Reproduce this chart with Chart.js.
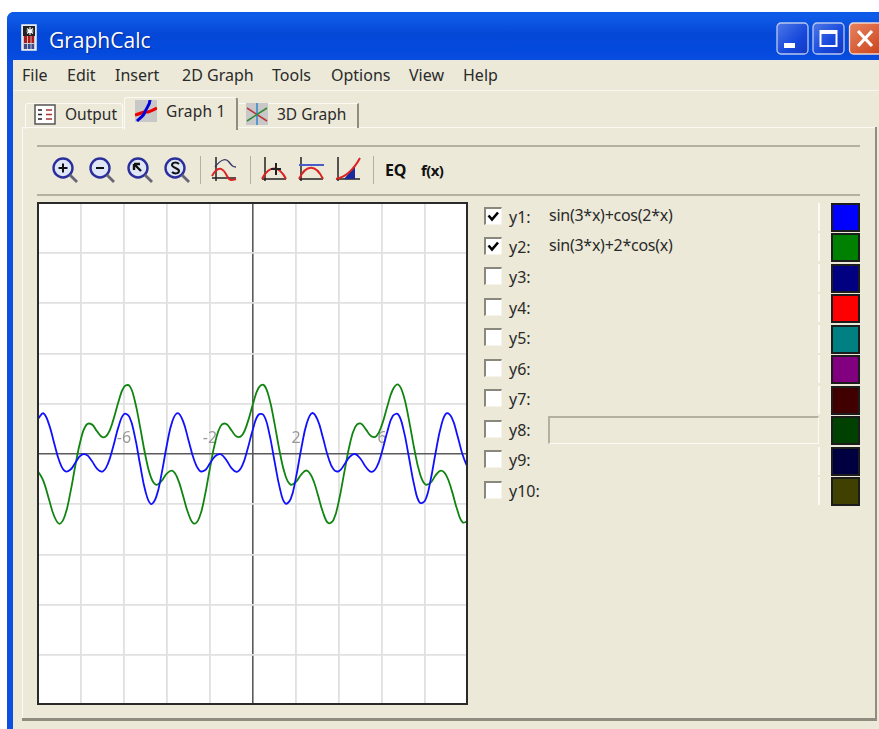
<!DOCTYPE html>
<html><head><meta charset="utf-8">
<script src="https://cdn.jsdelivr.net/npm/chart.js@4"></script>
<style>
html,body{margin:0;padding:0;background:#fff;width:879px;height:729px;overflow:hidden}
#win{position:absolute;left:0;top:0;width:879px;height:729px;overflow:hidden;font-family:"Noto Sans","Open Sans",sans-serif;color:#2a2a2a;filter:blur(.45px)}
.a{position:absolute;white-space:nowrap}
.t{position:absolute;white-space:nowrap;line-height:20px;transform:translateY(-10px)}
</style></head><body>
<div id="win">
 <div class="a" style="left:7px;top:12px;width:872px;height:717px;background:#0a4fe0;border-top-left-radius:7px"></div>
 <div class="a" style="left:7px;top:12px;width:872px;height:48px;border-top-left-radius:7px;background:linear-gradient(#0a58e6 0,#0f5ce8 8%,#0548d8 45%,#0249dc 80%,#0a4ce0 100%)"></div>
 <div class="a" style="left:13px;top:60px;width:866px;height:669px;background:#ece9d8"></div>
 <div class="t" style="left:49px;top:40px;color:#fff;font:500 21px/20px 'Open Sans',sans-serif;text-shadow:1px 1px 1px #0a2a90">GraphCalc</div>
 <svg class="a" style="left:21px;top:24px" width="16" height="27" viewBox="0 0 16 27"><rect width="14" height="25" x="1" y="1" fill="#c9c9d4" stroke="#f2f2f2" stroke-width="1.500"/><rect x="2" y="2" width="12" height="10" fill="#222"/><path d="M9 3v8M5.500 7h7M6 4.500l6 5M12 4.500l-6 5" stroke="#fff" stroke-width="1.100"/><rect x="3" y="12" width="10" height="7" fill="#a81a1a"/><rect x="3" y="20" width="10" height="5" fill="#3a4a8c"/><path d="M6.500 12v13M10 12v13" stroke="#ddd" stroke-width=".8"/></svg>
 <svg class="a" style="left:776px;top:22px" width="103" height="33" viewBox="0 0 103 33">
  <defs><linearGradient id="b" x1="0" y1="0" x2="1" y2="1"><stop offset="0" stop-color="#4f78e6"/><stop offset=".6" stop-color="#1648dc"/><stop offset="1" stop-color="#1438c4"/></linearGradient>
  <linearGradient id="r" x1="0" y1="0" x2="1" y2="1"><stop offset="0" stop-color="#e8835f"/><stop offset="1" stop-color="#c83c14"/></linearGradient></defs>
  <rect x="1" y="1" width="31" height="31" rx="4" fill="url(#b)" stroke="#b8c8f0" stroke-width="1.300"/>
  <rect x="8" y="21" width="11" height="5" fill="#fff"/>
  <rect x="37" y="1" width="31" height="31" rx="4" fill="url(#b)" stroke="#b8c8f0" stroke-width="1.300"/>
  <rect x="44.500" y="9" width="16" height="15" fill="none" stroke="#fff" stroke-width="2"/><rect x="44" y="8" width="17" height="4" fill="#fff"/>
  <rect x="73.500" y="1" width="40" height="31" rx="4" fill="url(#r)" stroke="#f0d8d0" stroke-width="1.300"/>
  <path d="M82 9l14 15M96 9l-14 15" stroke="#fff" stroke-width="3.200"/>
 </svg>
 <div id="menu"></div>
 <div class="a" style="left:13px;top:90px;width:866px;height:1px;background:#f8f6ee"></div>

 <div class="a" style="left:22px;top:127px;width:853px;height:592px;border-top:1.500px solid #fbfaf4;border-left:1.500px solid #fbfaf4;box-sizing:border-box"></div>
 <div class="a" style="left:22px;top:718px;width:855px;height:3px;background:#8f8d80"></div>
 <div class="a" style="left:875px;top:127px;width:2px;height:594px;background:#8f8d80"></div>

 <div class="a" style="left:25px;top:103px;width:98px;height:26px;border:1.500px solid #fbfaf4;border-bottom:none;border-radius:3px 3px 0 0;box-sizing:border-box"></div>
 <div class="a" style="left:124px;top:97px;width:114px;height:33px;background:#ece9d8;border-top:1.500px solid #fbfaf4;border-left:1.500px solid #fbfaf4;border-right:2px solid #8f8d80;border-radius:3px 3px 0 0;box-sizing:border-box"></div>
 <div class="a" style="left:239px;top:103px;width:120px;height:25px;border-top:1.500px solid #fbfaf4;border-right:2px solid #8f8d80;box-sizing:border-box"></div>
 <div class="t" style="left:65px;top:114px;font-size:15.500px">Output</div>
 <div class="t" style="left:166px;top:111px;font-size:15.500px;letter-spacing:.2px">Graph 1</div>
 <div class="t" style="left:277px;top:114px;font-size:15.500px">3D Graph</div>
 <svg class="a" style="left:34px;top:104px" width="22" height="21" viewBox="0 0 22 21"><rect x="1" y="1" width="20" height="19" fill="#fff" stroke="#555" stroke-width="1.500"/><path d="M4 6h4M4 10.500h4M4 15h4" stroke="#222" stroke-width="1.500"/><path d="M12 6h6M12 10.500h6M12 15h6" stroke="#a33" stroke-width="1.500"/></svg>
 <svg class="a" style="left:135px;top:100px" width="22" height="22" viewBox="0 0 22 22"><rect width="22" height="22" fill="#c8c8c8"/><path d="M0 15c4-1 6-2 9-3h4c3-1 5-2 9-4" fill="none" stroke="#e00" stroke-width="3"/><path d="M2 21c3-3 6-5 7-7s1-3 3-6 3-5 3-8" fill="none" stroke="#00d" stroke-width="3"/></svg>
 <svg class="a" style="left:246px;top:103px" width="22" height="22" viewBox="0 0 22 22"><rect width="22" height="22" fill="#c8c8c8"/><path d="M1 5l20 13" stroke="#b33" stroke-width="1.500"/><path d="M11 0v22" stroke="#38c" stroke-width="1.500"/><path d="M1 18L21 5" stroke="#383" stroke-width="1.500"/></svg>

 <div class="a" style="left:37px;top:145px;width:823px;height:2px;background:#b4b1a1"></div>
 <div class="a" style="left:37px;top:194px;width:823px;height:2px;background:#b4b1a1"></div>
 <div class="a" style="left:200px;top:156px;width:1px;height:28px;background:#b4b1a1"></div>
 <div class="a" style="left:250px;top:156px;width:1px;height:28px;background:#b4b1a1"></div>
 <div class="a" style="left:373px;top:156px;width:1px;height:28px;background:#b4b1a1"></div>
 <svg class="a" style="left:50px;top:155px" width="400" height="30" viewBox="0 0 400 30" fill="none">
  <g><circle cx="13" cy="13" r="9.500" fill="#dfe6f5" stroke="#2a2f9c" stroke-width="2.400"/><path d="M20 20l7 7" stroke="#667" stroke-width="2.800"/></g>
  <path d="M8.500 13h9M13 8.500v9" stroke="#111" stroke-width="2"/>
  <g transform="translate(37 0)"><circle cx="13" cy="13" r="9.500" fill="#dfe6f5" stroke="#2a2f9c" stroke-width="2.400"/><path d="M20 20l7 7" stroke="#667" stroke-width="2.800"/><path d="M9 13h8" stroke="#111" stroke-width="2"/></g>
  <g transform="translate(75 0)"><circle cx="13" cy="13" r="9.500" fill="#dfe6f5" stroke="#2a2f9c" stroke-width="2.400"/><path d="M20 20l7 7" stroke="#667" stroke-width="2.800"/><path d="M9 9l7 7M9 9h6M9 9v6" stroke="#111" stroke-width="2.400"/></g>
  <g transform="translate(112 0)"><circle cx="13" cy="13" r="9.500" fill="#dfe6f5" stroke="#2a2f9c" stroke-width="2.400"/><path d="M20 20l7 7" stroke="#667" stroke-width="2.800"/><path d="M17 9c-2-2-7-2-7 1s7 3 7 6-5 3-7 1" stroke="#111" stroke-width="2"/></g>
  <g transform="translate(162 2)"><path d="M4 0v24M0 21h24" stroke="#222" stroke-width="1.500"/><path d="M0 19c7-13 12-6 15 0s6 4 9 3" stroke="#d22" stroke-width="2"/><path d="M3 10c6-8 11-9 14-5s4 5 7 5" stroke="#336" stroke-width="1.300"/></g>
  <g transform="translate(212 2)"><path d="M3 0v24M0 22h24" stroke="#222" stroke-width="1.500"/><path d="M0 22C7 8 17 8 24 22" stroke="#d22" stroke-width="2"/><path d="M14 6v12M9 12h10" stroke="#222" stroke-width="2"/></g>
  <g transform="translate(249 2)"><path d="M2 0v24M0 22h24" stroke="#222" stroke-width="1.500"/><path d="M0 22C7 7 17 7 24 22" stroke="#d22" stroke-width="2"/><path d="M0 8h25" stroke="#4a5cc8" stroke-width="2"/></g>
  <g transform="translate(286 2)"><path d="M2 0v24M0 22h24" stroke="#222" stroke-width="1.500"/><path d="M8 22L19 9v13z" fill="#1a2a9c"/><path d="M0 22C10 20 18 12 24 1" stroke="#d22" stroke-width="2"/></g>
 </svg>
 <div class="t" style="left:385px;top:170px;font:bold 16px/20px 'Noto Sans',sans-serif;color:#111;letter-spacing:-.3px">EQ</div>
 <div class="t" style="left:421px;top:170px;font:bold 15px/20px 'Noto Sans',sans-serif;color:#111;letter-spacing:-.6px">f(x)</div>

 <div class="a" style="left:38px;top:203px;width:430px;height:502px;background:#fff"><canvas id="c" width="430" height="502" style="display:block;width:430px;height:502px"></canvas></div>
 <div class="a" style="left:37px;top:202px;width:431px;height:503px;border:2px solid #2a2a2a;box-sizing:border-box"></div>
 <div id="rows"></div>
</div>
<script>
const menuItems = ["File","Edit","Insert","2D Graph","Tools","Options","View","Help"];
const menuLeft = [22,67,115,182,272,331,409,463];
const rowLabels = ["y1:","y2:","y3:","y4:","y5:","y6:","y7:","y8:","y9:","y10:"];
const rowFormulas = ["sin(3*x)+cos(2*x)","sin(3*x)+2*cos(x)","","","","","","","",""];
const rowChecked = [true,true,false,false,false,false,false,false,false,false];
const rowColors = ["#0000ff","#008000","#000080","#ff0000","#008080","#800080","#400000","#004000","#000040","#404000"];

const xValues = [-10,-9.75,-9.5,-9.25,-9,-8.75,-8.5,-8.25,-8,-7.75,-7.5,-7.25,-7,-6.75,-6.5,-6.25,-6,-5.75,-5.5,-5.25,-5,-4.75,-4.5,-4.25,-4,-3.75,-3.5,-3.25,-3,-2.75,-2.5,-2.25,-2,-1.75,-1.5,-1.25,-1,-0.75,-0.5,-0.25,0,0.25,0.5,0.75,1,1.25,1.5,1.75,2,2.25,2.5,2.75,3,3.25,3.5,3.75,4,4.25,4.5,4.75,5,5.25,5.5,5.75,6,6.25,6.5,6.75,7,7.25,7.5,7.75,8,8.25,8.5,8.75,9,9.25,9.5,9.75,10];
const y1Values = [1.40,1.62,1.21,.44,-.30,-.68,-.63,-.33,-.05,-.03,-.27,-.59,-.70,-.39,.30,1.10,1.59,1.48,.72,-.43,-1.49,-1.99,-1.71,-.78,.39,1.31,1.63,1.30,.55,-.21,-.65,-.66,-.37,-.08,-.01,-.23,-.56,-.71,-.46,.20,1.00,1.56,1.54,.85,-.28,-1.37,-1.97,-1.80,-.93,.24,1.22,1.63,1.37,.66,-.13,-.62,-.68,-.42,-.11,0,-.19,-.52,-.71,-.52,.09,.90,1.51,1.58,.97,-.12,-1.25,-1.93,-1.86,-1.08,.08,1.12,1.62,1.44,.76,-.03,-.58];
const y2Values = [-.69,-1.07,-1.77,-2.47,-2.78,-2.46,-1.56,-.40,.61,1.16,1.18,.90,.67,.80,1.35,2.10,2.67,2.72,2.13,1.07,-.08,-.92,-1.23,-1.07,-.77,-.67,-.99,-1.67,-2.39,-2.77,-2.54,-1.71,-.55,.50,1.12,1.20,.94,.69,.76,1.26,2.00,2.62,2.75,2.24,1.22,.06,-.84,-1.22,-1.11,-.81,-.66,-.93,-1.57,-2.31,-2.75,-2.61,-1.84,-.71,.38,1.07,1.22,.98,.71,.72,1.17,1.90,2.56,2.77,2.34,1.37,.21,-.74,-1.20,-1.15,-.84,-.66,-.87,-1.47,-2.22,-2.72,-2.67];
const xTickLabels = [-6,-2,2,6];

const menu = document.getElementById('menu');
menuItems.forEach((m,i)=>{const d=document.createElement('div');d.className='t';d.style.cssText=`left:${menuLeft[i]}px;top:74.500px;font-size:16px`;d.textContent=m;menu.appendChild(d);});

const rows = document.getElementById('rows');
rowLabels.forEach((l,i)=>{
  const cy = 216.5 + i*30.45, top = Math.round(cy-13.5);
  let h = '';
  h += `<div class="a" style="left:484px;top:${Math.round(cy-10)}px;width:18px;height:18px;background:#fff;border-top:2px solid #8a887c;border-left:2px solid #8a887c;border-right:1px solid #f6f4ea;border-bottom:1px solid #f6f4ea;box-sizing:border-box"></div>`;
  if(rowChecked[i]) h += `<svg class="a" style="left:484px;top:${Math.round(cy-10)}px" width="18" height="18"><path d="M4.500 8.500l3.500 4 6-7" fill="none" stroke="#000" stroke-width="2.600"/></svg>`;
  h += `<div class="t" style="left:509px;top:${cy}px;font-size:16px">${l}</div>`;
  if(rowFormulas[i]) h += `<div class="t" style="left:549px;top:${cy-1.5}px;font-size:16px;letter-spacing:-.26px">${rowFormulas[i]}</div>`;
  if(i===7) h += `<div class="a" style="left:548px;top:${top}px;width:271px;height:28px;border-top:2px solid #b4b1a1;border-left:2px solid #b4b1a1;border-right:1.500px solid #fbfaf4;border-bottom:1.500px solid #fbfaf4;box-sizing:border-box"></div>`;
  else h += `<div class="a" style="left:818px;top:${top}px;width:1.500px;height:28px;background:#fbfaf4"></div>`;
  h += `<div class="a" style="left:831px;top:${top}px;width:29px;height:29px;background:${rowColors[i]};border:2px solid #1c1c1c;box-sizing:border-box"></div>`;
  rows.insertAdjacentHTML('beforeend',h);
});

new Chart(document.getElementById('c'),{
  type:'line',
  data:{labels:xValues,datasets:[
    {label:'y1',data:y1Values.map((v,i)=>({x:xValues[i],y:v})),borderColor:'#1010ff',borderWidth:1.8,pointRadius:0,tension:.42,fill:false},
    {label:'y2',data:y2Values.map((v,i)=>({x:xValues[i],y:v})),borderColor:'#108410',borderWidth:1.8,pointRadius:0,tension:.42,fill:false}
  ]},
  options:{
    responsive:false,animation:false,devicePixelRatio:1,
    layout:{padding:0},
    plugins:{legend:{display:false},tooltip:{enabled:false},title:{display:false}},
    scales:{
      x:{type:'linear',min:-10,max:10,position:{y:1.0},border:{display:false},
        grid:{drawTicks:false,lineWidth:c=>c.tick&&c.tick.value===0?1.6:1.8,color:c=>c.tick&&c.tick.value===0?'#5a5a5a':'#e0e0e0'},
        ticks:{stepSize:2,autoSkip:false,maxRotation:0,padding:0,color:'#999999',font:{family:'"Noto Sans"',size:16},
          callback:v=>xTickLabels.includes(v)?String(v):''}},
      y:{type:'linear',min:-10,max:10,border:{display:false},
        grid:{drawTicks:false,lineWidth:c=>c.tick&&c.tick.value===0?1.6:1.8,color:c=>c.tick&&c.tick.value===0?'#5a5a5a':'#e0e0e0'},
        ticks:{display:false,stepSize:2}}
    }
  }
});
</script>
</body></html>
